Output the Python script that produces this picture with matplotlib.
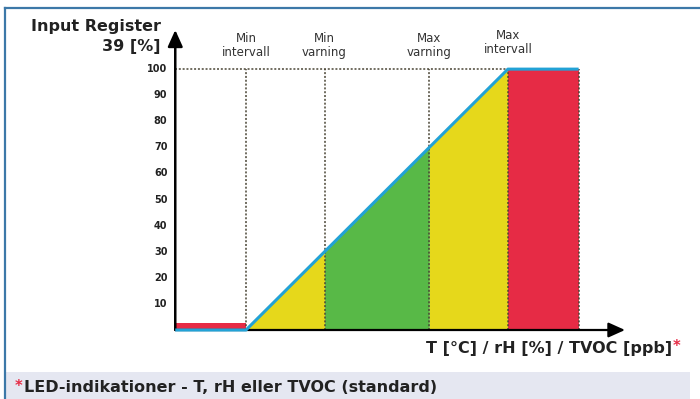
import matplotlib
matplotlib.use("Agg")
import matplotlib.pyplot as plt
from matplotlib.patches import Rectangle
from matplotlib.lines import Line2D

# x positions of the thresholds (in % of the interval span) and register values
x_start, x_min_int, x_min_warn, x_max_warn, x_max_int, x_end = -27, 0, 30, 70, 100, 127
line_x = [x_start, x_min_int, x_max_int, x_end]
line_y = [0, 0, 100, 100]
zones = [  # (x0, x1, colour)
    (x_min_int, x_min_warn, "#e6d81b"),
    (x_min_warn, x_max_warn, "#58b947"),
    (x_max_warn, x_max_int, "#e6d81b"),
]
red_left_h = 2.6
yticks = [10, 20, 30, 40, 50, 60, 70, 80, 90, 100]
top_labels = ["Min\nintervall", "Min\nvarning", "Max\nvarning", "Max\nintervall"]
top_x = [x_min_int, x_min_warn, x_max_warn, x_max_int]

W, H = 700, 399
fig = plt.figure(figsize=(7, 3.99), dpi=100)
fig.patch.set_facecolor("white")

# frame + footer bar
fig.add_artist(Rectangle((6 / W, 0), 684 / W, 27 / H, transform=fig.transFigure,
                         facecolor="#e5e7f1", edgecolor="none"))
fig.add_artist(Line2D([5 / W, 5 / W], [0, 1 - 8 / H], transform=fig.transFigure, color="#3c78a8", lw=1.6))
fig.add_artist(Line2D([5 / W, 1], [1 - 8 / H, 1 - 8 / H], transform=fig.transFigure, color="#3c78a8", lw=1.6))

# axes: origin at (175, 330) px, y=100 at 69 px, x=0 at 246 px, x=100 at 508 px
xmin, xmax = -27.1, 144.7
ymin, ymax = 0, 115
ax = fig.add_axes([175 / W, (H - 330) / H, 450 / W, 300 / H])
ax.set_xlim(xmin, xmax)
ax.set_ylim(ymin, ymax)
ax.axis("off")

for x0, x1, c in zones:
    ax.fill_between([x0, x1], [x0, x1], 0, color=c, lw=0, zorder=1)
ax.fill_between([x_max_int, x_end], 100, 0, color="#e62b45", lw=0, zorder=1)
ax.fill_between([x_start, x_min_int], red_left_h, 0, color="#e62b45", lw=0, zorder=1)

dot = dict(color="#4a4535", lw=1.1, ls=(0, (1.3, 1.2)), zorder=2)
for xv in top_x:
    ax.plot([xv, xv], [0, 100], **dot)
ax.plot([x_end, x_end], [0, 100], **dot)
ax.plot([x_start, x_max_int], [100, 100], **dot)

# axes arrows
ax.annotate("", xy=(xmax, 0), xytext=(x_start, 0),
            arrowprops=dict(arrowstyle="-|>,head_length=1.0,head_width=0.45", color="black", lw=1.6,
                            shrinkA=0, shrinkB=0), zorder=3, annotation_clip=False)
ax.annotate("", xy=(x_start, ymax), xytext=(x_start, 0),
            arrowprops=dict(arrowstyle="-|>,head_length=1.0,head_width=0.45", color="black", lw=1.8,
                            shrinkA=0, shrinkB=0), zorder=3, annotation_clip=False)

ax.plot(line_x, line_y, color="#22a2d6", lw=2.2, zorder=4, solid_capstyle="butt", clip_on=False)

for v in yticks:
    ax.text(x_start - 3.0, v, str(v), ha="right", va="center", fontsize=7, fontweight="bold",
            color="#222222")

for xv, lab in zip(top_x, top_labels):
    dy = 1.0 if xv == x_max_int else 0
    ax.text(xv, 104 + dy, lab, ha="center", va="bottom", fontsize=8.5, color="#333333",
            linespacing=1.1)

# y axis title
fig.text(161 / W, 1 - 19 / H, "Input Register\n39 [%]", ha="right", va="top", fontsize=11.5,
         fontweight="bold", color="#222222", multialignment="right", linespacing=1.4)

# x axis title with red asterisk
fig.text(672 / W, 1 - 348 / H, "T [°C] / rH [%] / TVOC [ppb]", ha="right", va="center",
         fontsize=11.5, fontweight="bold", color="#222222")
fig.text(673 / W, 1 - 346 / H, "*", ha="left", va="center", fontsize=10.5, fontweight="bold",
         color="#e62b45")

# footer
fig.text(15 / W, 1 - 386 / H, "*", ha="left", va="center", fontsize=10.5, fontweight="bold",
         color="#e62b45")
fig.text(24 / W, 1 - 388 / H, "LED-indikationer - T, rH eller TVOC (standard)", ha="left",
         va="center", fontsize=11.5, fontweight="bold", color="#222222")

fig.savefig("out.png", dpi=100)
